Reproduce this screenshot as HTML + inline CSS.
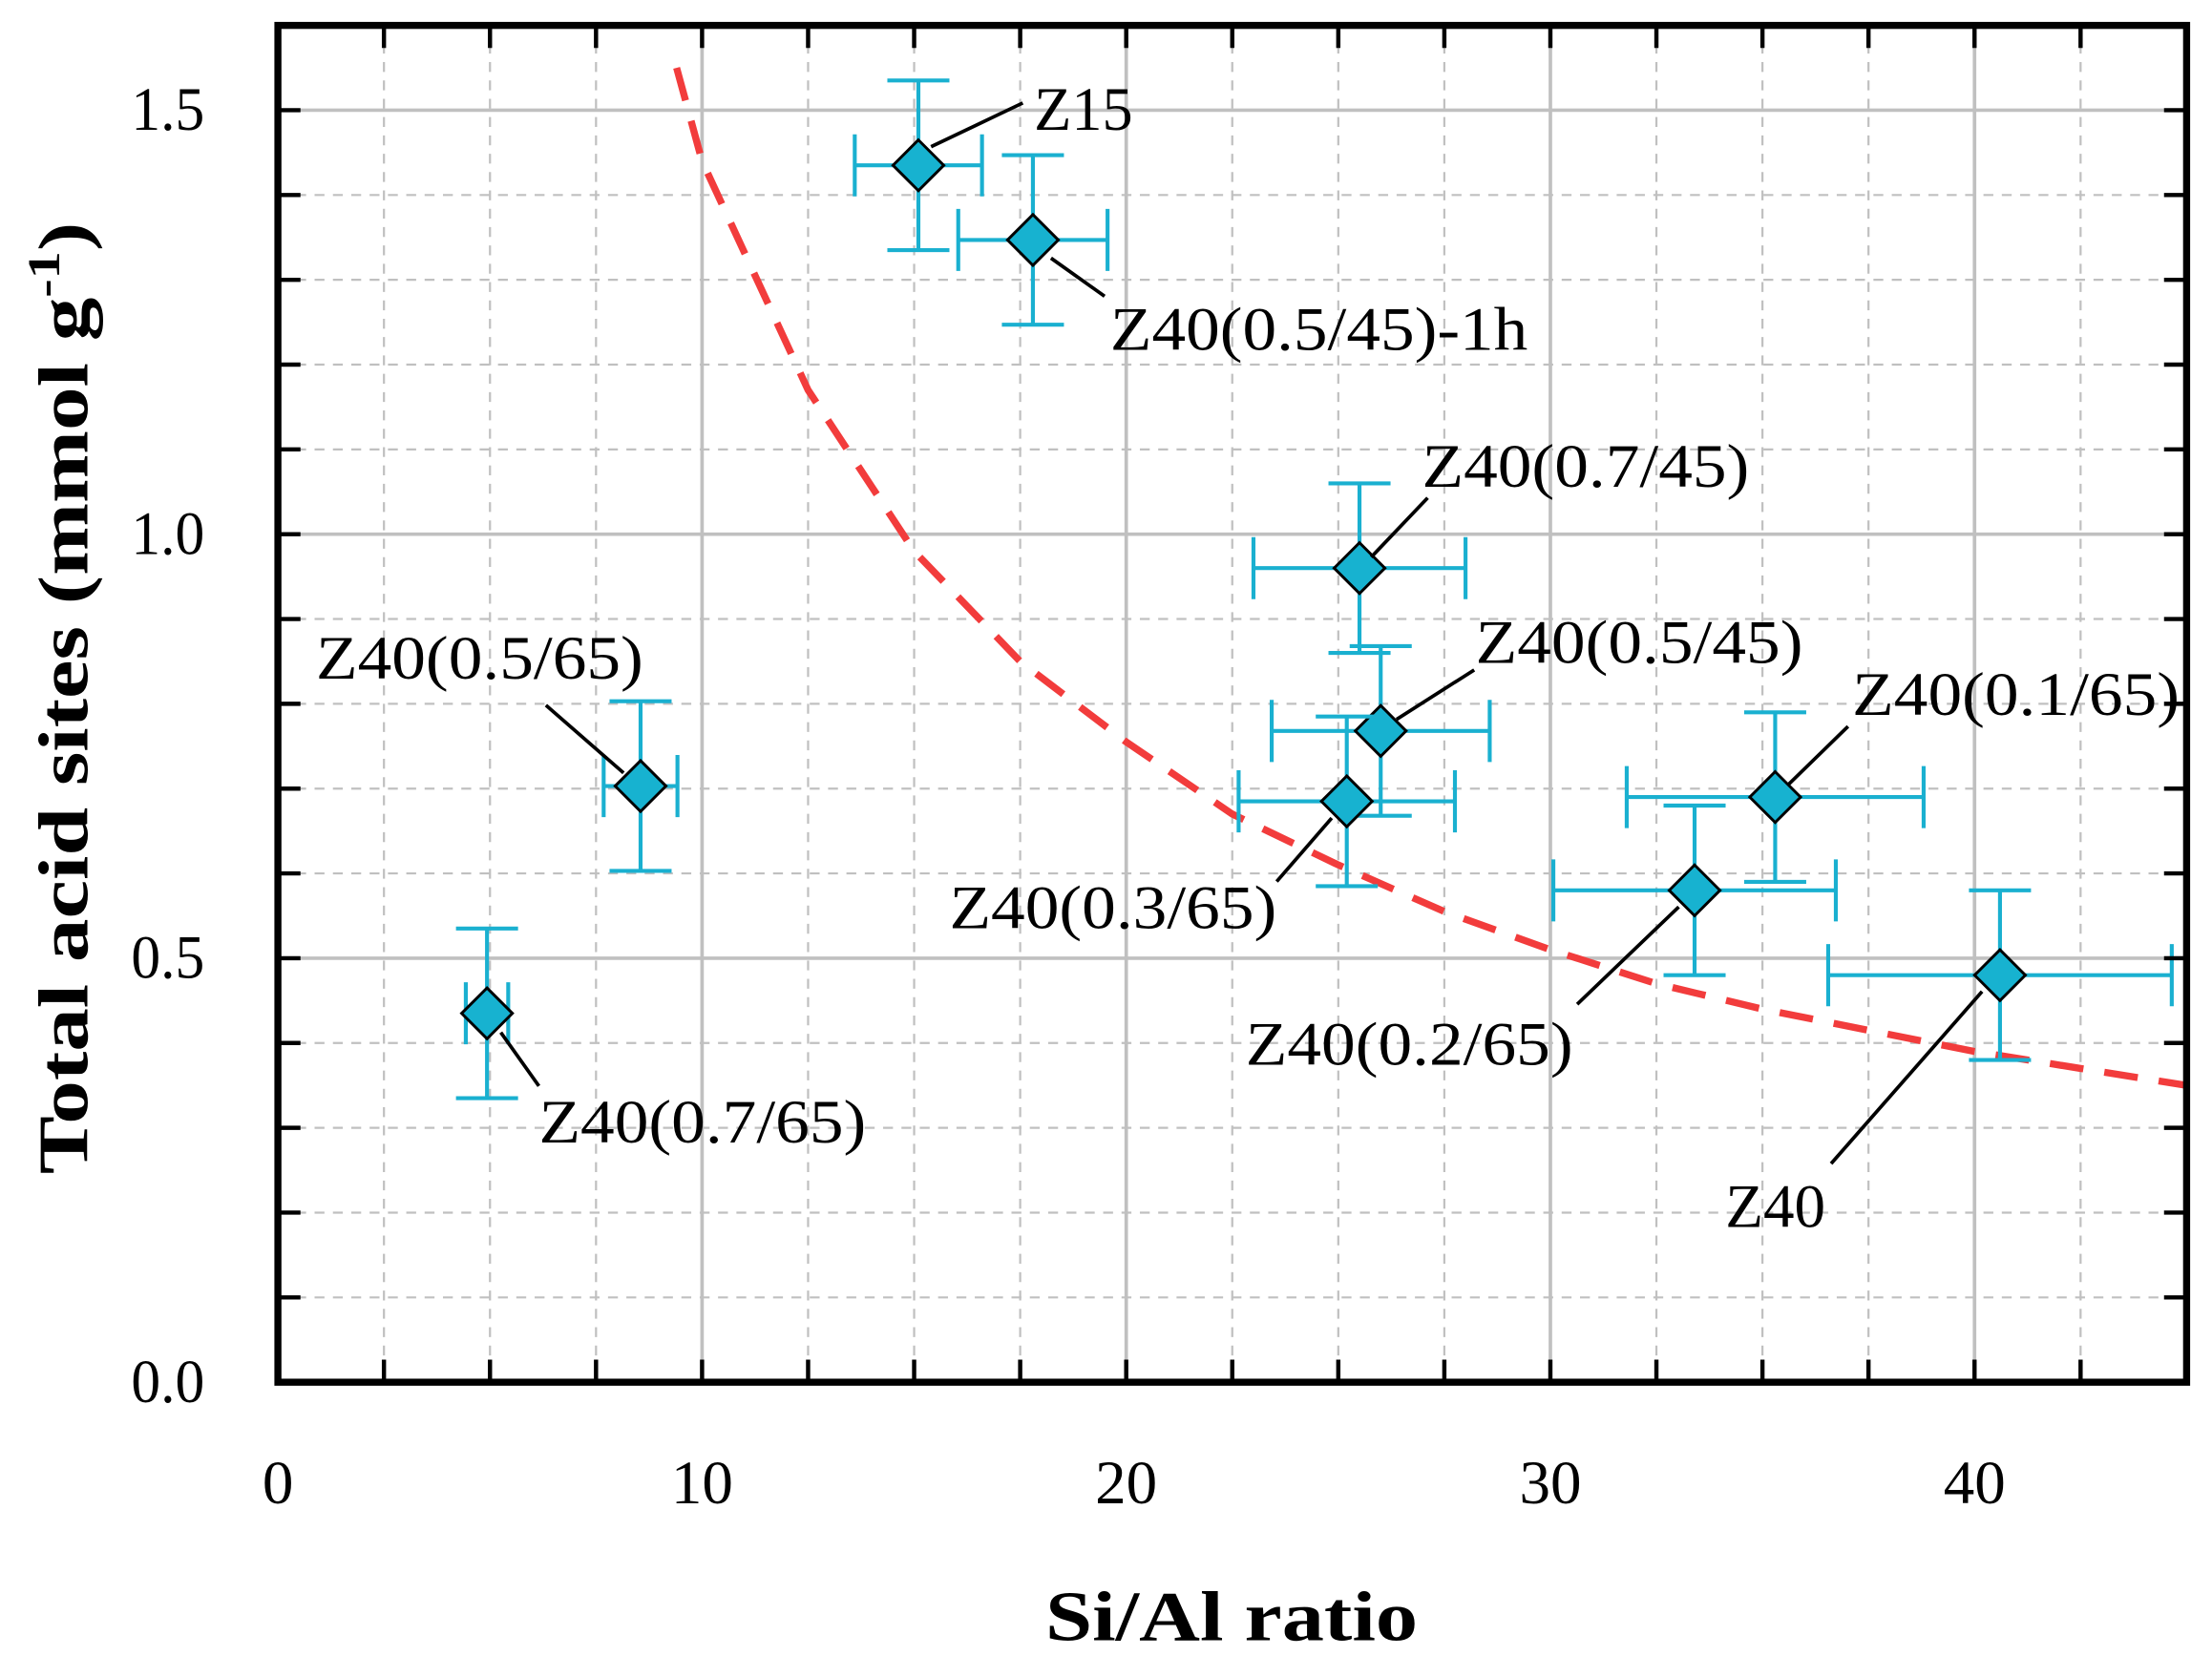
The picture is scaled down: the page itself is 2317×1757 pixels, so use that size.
<!DOCTYPE html>
<html><head><meta charset="utf-8"><style>
html,body{margin:0;padding:0;background:#fff;}
svg{display:block;}
text{font-family:"Liberation Serif",serif;fill:#000;}
</style></head><body>
<svg id="chart" width="2317" height="1757" viewBox="0 0 1568 1189" xmlns="http://www.w3.org/2000/svg">
<g id="grid"></g>
<g id="curve"></g>
<g id="points"></g>
<g id="ann"></g>
<g id="axes"></g>
<text x="873" y="1163" text-anchor="middle" font-weight="bold" font-size="50" textLength="264" lengthAdjust="spacingAndGlyphs">Si/Al ratio</text>
<text transform="translate(62,495) rotate(-90)" text-anchor="middle" font-weight="bold" font-size="50" textLength="675" lengthAdjust="spacingAndGlyphs">Total acid sites (mmol g<tspan font-size="32" dy="-20">-1</tspan><tspan dy="20">)</tspan></text>
</svg>
<script>
const NS="http://www.w3.org/2000/svg";
const xTicks=[0,10,20,30,40];
const yTicks=[0.0,0.5,1.0,1.5];
const yTickLabels=["0.0","0.5","1.0","1.5"];
const sampleNames=["Z15","Z40(0.5/45)-1h","Z40(0.7/45)","Z40(0.5/45)","Z40(0.3/65)","Z40(0.1/65)","Z40(0.2/65)","Z40","Z40(0.5/65)","Z40(0.7/65)"];
const siAl=[15.1,17.8,25.5,26.0,25.2,35.3,33.4,40.6,8.55,4.93];
const siAlErr=[1.5,1.76,2.5,2.57,2.55,3.5,3.33,4.05,0.87,0.5];
const acid=[1.435,1.347,0.96,0.768,0.685,0.69,0.58,0.48,0.703,0.435];
const acidErr=[0.1,0.1,0.1,0.1,0.1,0.1,0.1,0.1,0.1,0.1];
const fitX=[9.4,10,12.5,15,17.5,20,22.5,25,27.5,30,32.5,35,37.5,40,42.5,45];
const fitY=[1.55,1.44,1.17,0.98,0.85,0.755,0.67,0.61,0.555,0.51,0.47,0.44,0.415,0.39,0.37,0.35];
const L=197,R=1550,T=18,B=980,XMAX=45,YMAX=1.6;
const sx=v=>L+v*(R-L)/XMAX;
const sy=v=>B-v*(B-T)/YMAX;
function mk(p,tag,a){const e=document.createElementNS(NS,tag);for(const k in a)e.setAttribute(k,a[k]);p.appendChild(e);return e;}
const grid=document.getElementById('grid');
for(let i=1;i<18;i++){const v=i*2.5;const major=(i%4===0);
 const l=mk(grid,'line',{x1:sx(v),x2:sx(v),y1:T,y2:B,stroke:'#c0c0c0','stroke-width':major?2.5:1.5});
 if(!major)l.setAttribute('stroke-dasharray','7,6');
 
 }
for(let i=1;i<16;i++){const v=i*0.1;const major=(i%5===0);
 const l=mk(grid,'line',{x1:L,x2:R,y1:sy(v),y2:sy(v),stroke:'#c0c0c0','stroke-width':major?2.5:1.5});
 if(!major)l.setAttribute('stroke-dasharray','7,6');
 
 }
const cg=document.getElementById('curve');
const cp=mk(cg,'polyline',{points:fitX.map((x,i)=>sx(x)+','+sy(fitY[i])).join(' '),fill:'none',stroke:'#f23c3c','stroke-width':5,'stroke-dasharray':'24,15'});


const pg=document.getElementById('points');const EC='#1ab0d0',cap=22,D=18;
siAl.forEach((x,i)=>{const cx=sx(x),cy=sy(acid[i]);
 const g=mk(pg,'g',{});
 
 
 const x1=sx(x-siAlErr[i]),x2=sx(x+siAlErr[i]),y1=sy(acid[i]+acidErr[i]),y2=sy(acid[i]-acidErr[i]);
 const s={stroke:EC,'stroke-width':2.8};
 mk(g,'line',Object.assign({x1:x1,x2:x2,y1:cy,y2:cy},s));
 mk(g,'line',Object.assign({x1:x1,x2:x1,y1:cy-cap,y2:cy+cap},s));
 mk(g,'line',Object.assign({x1:x2,x2:x2,y1:cy-cap,y2:cy+cap},s));
 mk(g,'line',Object.assign({x1:cx,x2:cx,y1:y1,y2:y2},s));
 mk(g,'line',Object.assign({x1:cx-cap,x2:cx+cap,y1:y1,y2:y1},s));
 mk(g,'line',Object.assign({x1:cx-cap,x2:cx+cap,y1:y2,y2:y2},s));
 mk(g,'polygon',{points:`${cx},${cy-D} ${cx+D},${cy} ${cx},${cy+D} ${cx-D},${cy}`,fill:'#17b2d0',stroke:'#000','stroke-width':2});
});
const annPos=[[733,92,70,660,104,725,73],[787,248,296,745,183,783,210],[1008,345,232,972,395,1012,353],[1046,470,232,990,510,1045,475],[673,658,232,944,580,905,625],[1313,507,232,1268,556,1310,515],[883,755,232,1190,643,1118,712],[1223,870,71,1405,703,1298,825],[224,481,232,387,500,442,548],[382,810,232,355,732,382,770]];
const ag=document.getElementById('ann');
sampleNames.forEach((n,i)=>{const p=annPos[i];
 const ln=mk(ag,'line',{x1:p[3],y1:p[4],x2:p[5],y2:p[6],stroke:'#000','stroke-width':2.5});
 
 
 const t=mk(ag,'text',{x:p[0],y:p[1],'font-size':44,textLength:p[2],lengthAdjust:'spacingAndGlyphs'});
 t.textContent=n;
 
 });
const ax=document.getElementById('axes');
const fr=mk(ax,'rect',{x:L,y:T,width:R-L,height:B-T,fill:'none',stroke:'#000','stroke-width':5});


for(let i=1;i<18;i++){const x=sx(i*2.5);
 mk(ax,'line',{x1:x,x2:x,y1:B,y2:B-16,stroke:'#000','stroke-width':3});
 mk(ax,'line',{x1:x,x2:x,y1:T,y2:T+16,stroke:'#000','stroke-width':3});}
for(let i=1;i<16;i++){const y=sy(i*0.1);
 mk(ax,'line',{x1:L,x2:L+16,y1:y,y2:y,stroke:'#000','stroke-width':3});
 mk(ax,'line',{x1:R,x2:R-16,y1:y,y2:y,stroke:'#000','stroke-width':3});}
xTicks.forEach(v=>{const t=mk(ax,'text',{x:sx(v),y:1066,'text-anchor':'middle','font-size':44,textLength:v===0?22:44,lengthAdjust:'spacingAndGlyphs'});t.textContent=String(v);
 
 });
yTicks.forEach((v,i)=>{const t=mk(ax,'text',{x:145,y:sy(v)+14,'text-anchor':'end','font-size':44,textLength:52,lengthAdjust:'spacingAndGlyphs'});t.textContent=yTickLabels[i];
 
 });
</script>
</body></html>
